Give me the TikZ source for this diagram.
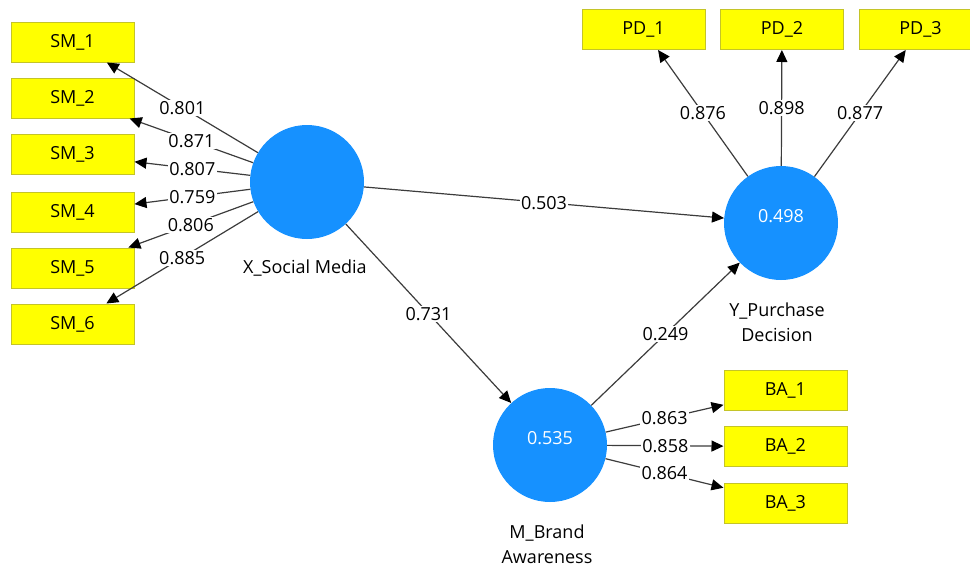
\documentclass[tikz,border=0pt]{standalone}
\usepackage{fontspec}
\setmainfont{Open Sans}
\usetikzlibrary{arrows.meta}
\definecolor{lvblue}{RGB}{22,145,255}
\definecolor{mvyellow}{RGB}{255,255,0}
\definecolor{mvedge}{RGB}{196,196,40}
\definecolor{pathgray}{RGB}{60,60,60}
\begin{document}
\begin{tikzpicture}[x=1pt,y=-1pt,
  font=\fontsize{18}{25}\selectfont,
  latent/.style={circle,fill=lvblue,minimum size=114pt,inner sep=0pt,
    text=white,text height=13pt,text depth=15pt},
  indicator/.style={rectangle,fill=mvyellow,draw=mvedge,line width=1pt,
    minimum width=123pt,minimum height=40pt,inner sep=0pt},
  link/.style={draw=pathgray,line width=1.2pt,
    -{Triangle[length=12pt,width=11pt,color=black]}},
  coef/.style={fill=white,inner sep=1.5pt,text height=13pt,text depth=0pt,
    pos=0.5},
  caption/.style={align=center}
]
\useasboundingbox (0,0) rectangle (970,568);

% latent variables
\node[latent] (X) at (307,182) {};
\node[latent] (Y) at (781,223) {0.498};
\node[latent] (M) at (550,445) {0.535};

\node[caption] (Xcap) at (305,268) {X\_Social Media};
\node[caption] (Ycap) at (777,322.5) {Y\_Purchase\\Decision};
\node[caption] (Mcap) at (547,544.5) {M\_Brand\\Awareness};

% indicators of X
\node[indicator] (sm1) at (72.5,42)    {SM\_1};
\node[indicator] (sm2) at (72.5,98)    {SM\_2};
\node[indicator] (sm3) at (72.5,154.5) {SM\_3};
\node[indicator] (sm4) at (72.5,212)   {SM\_4};
\node[indicator] (sm5) at (72.5,268)   {SM\_5};
\node[indicator] (sm6) at (72.5,324)   {SM\_6};

% indicators of Y
\node[indicator] (pd1) at (643.5,29.5) {PD\_1};
\node[indicator] (pd2) at (782,29.5)   {PD\_2};
\node[indicator] (pd3) at (920.5,29.5) {PD\_3};

% indicators of M
\node[indicator] (ba1) at (785.5,390.5) {BA\_1};
\node[indicator] (ba2) at (785.5,446.5) {BA\_2};
\node[indicator] (ba3) at (785.5,503)   {BA\_3};

% outer loadings
\draw[link] (X) -- node[coef]{0.801} (sm1);
\draw[link] (X) -- node[coef]{0.871} (sm2);
\draw[link] (X) -- node[coef]{0.807} (sm3);
\draw[link] (X) -- node[coef]{0.759} (sm4);
\draw[link] (X) -- node[coef]{0.806} (sm5);
\draw[link] (X) -- node[coef]{0.885} (sm6);

\draw[link] (Y) -- node[coef]{0.876} (pd1);
\draw[link] (Y) -- node[coef]{0.898} (pd2);
\draw[link] (Y) -- node[coef]{0.877} (pd3);

\draw[link] (M) -- node[coef]{0.863} (ba1);
\draw[link] (M) -- node[coef]{0.858} (ba2);
\draw[link] (M) -- node[coef]{0.864} (ba3);

% path coefficients
\draw[link] (X) -- node[coef]{0.503} (Y);
\draw[link] (X) -- node[coef]{0.731} (M);
\draw[link] (M) -- node[coef]{0.249} (Y);
\end{tikzpicture}
\end{document}
